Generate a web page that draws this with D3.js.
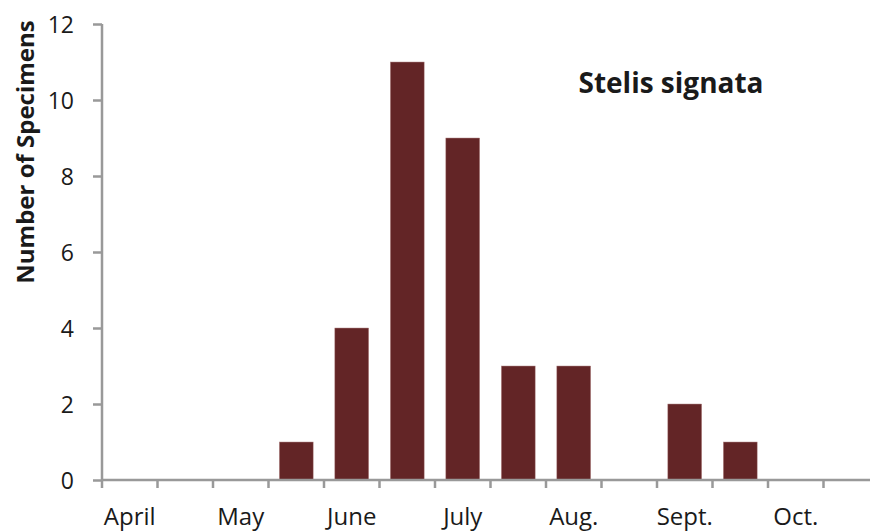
<!DOCTYPE html>
<html>
<head>
<meta charset="utf-8">
<script src="https://cdnjs.cloudflare.com/ajax/libs/d3/7.8.5/d3.min.js"></script>
<style>
	body { margin: 0; background: #fff; }
	svg { display: block; font-family: "Open Sans", "Noto Sans", sans-serif; }
</style>
</head>
<body>
<div id="chart"></div>
<script>
(function (){
	"use strict";

// half-month bins, Apr 1 to Oct 31
var bins = ["Apr1", "Apr2", "May1", "May2", "Jun1", "Jun2", "Jul1", "Jul2",
	"Aug1", "Aug2", "Sep1", "Sep2", "Oct1", "Oct2"];
var specimens = [0, 0, 0, 1, 4, 11, 9, 3, 3, 0, 2, 1, 0, 0];
var monthLabels = {Apr1: "April", May1: "May", Jun1: "June", Jul1: "July",
	Aug1: "Aug.", Sep1: "Sept.", Oct1: "Oct."};
var yTicks = [0, 2, 4, 6, 8, 10, 12];

var width = 870,
	height = 532,
	left = 102,
	right = 879,
	top = 24,
	bottom = 480,
	font = '"Open Sans", "Noto Sans", sans-serif';

var svg = d3.select("#chart").append("svg")
	.attr("width", width)
	.attr("height", height);

var x = d3.scaleBand()
	.domain(bins)
	.range([left, right])
	.paddingInner(0.39)
	.paddingOuter(0.195);

var y = d3.scaleLinear()
	.domain([0, 12])
	.range([bottom, top]);

// bars
svg.append("g")
	.selectAll("rect").data(specimens)
	.enter().append("rect")
		.attr("x", function(d, i) { return x(bins[i]); })
		.attr("y", function(d) { return y(d); })
		.attr("width", x.bandwidth())
		.attr("height", function(d) { return bottom - y(d); })
		.style("fill", "#632526")
		.style("stroke", "#b58a8a")
		.style("stroke-width", 0.5);

// y axis
var yAxis = svg.append("g")
	.attr("transform", "translate(" + left + ",0)")
	.call(d3.axisLeft(y).tickValues(yTicks).tickSize(9).tickPadding(19))
	.attr("font-family", font);
yAxis.selectAll("line, path").style("stroke", "#999").style("stroke-width", 2.5);
yAxis.select(".domain").attr("d", "M0," + top + "V" + bottom);
yAxis.selectAll("text")
	.style("font-size", "23px")
	.style("fill", "#1a1a1a")
	.attr("dy", "0.36em");

// x axis: ticks on bin edges, labels on first half of each month
var edgeAxis = svg.append("g")
	.attr("transform", "translate(0," + bottom + ")")
	.call(d3.axisBottom(x).tickSize(8).tickFormat(""));
edgeAxis.selectAll(".tick").attr("transform", function(d) {
	return "translate(" + (x(d) - x.step() * x.paddingInner() / 2) + ",0)";
});
edgeAxis.selectAll("line, path").style("stroke", "#999").style("stroke-width", 2.5);
edgeAxis.select(".domain").attr("d", "M" + left + ",0H" + right);

var labelAxis = svg.append("g")
	.attr("transform", "translate(0," + bottom + ")")
	.call(d3.axisBottom(x).tickSize(0)
		.tickFormat(function(d) { return monthLabels[d] || ""; }))
	.attr("font-family", font);
labelAxis.select(".domain").remove();
labelAxis.selectAll("text")
	.attr("y", 45)
	.attr("dy", 0)
	.style("font-size", "24px")
	.style("fill", "#1a1a1a");

// y title
svg.append("text")
	.attr("transform", "translate(34,152) rotate(-90)")
	.attr("text-anchor", "middle")
	.style("font-size", "24px")
	.style("font-weight", "bold")
	.style("fill", "#1a1a1a")
	.text("Number of Specimens");

// species name
svg.append("text")
	.attr("x", 671)
	.attr("y", 93)
	.attr("text-anchor", "middle")
	.style("font-size", "28px")
	.style("font-weight", "bold")
	.style("fill", "#1a1a1a")
	.text("Stelis signata");

})();
</script>
</body>
</html>
